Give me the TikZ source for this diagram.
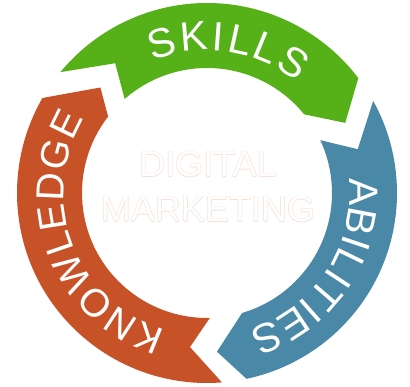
\documentclass[tikz,border=0pt]{standalone}
\usepackage{fontspec}
\setmainfont{Liberation Sans}
\definecolor{cgreen}{RGB}{86,176,24}
\definecolor{cblue}{RGB}{74,136,168}
\definecolor{corange}{RGB}{200,82,40}
\definecolor{cline}{RGB}{246,226,216}
\begin{document}
\begin{tikzpicture}[x=1pt,y=1pt,
  letter/.style={text=white,inner sep=0pt,anchor=base,font=\fontsize{#1}{#1}\selectfont},
  seg/.style={fill=#1,draw=none},
  ctext/.style={inner sep=0pt,anchor=base,font=\fontsize{36}{36}\selectfont}]
\useasboundingbox (0,0) rectangle (410,387);
\fill[white] (0,0) rectangle (410,387);
\begin{scope}[shift={(207,194)}]
  % orange segment (KNOWLEDGE)
  \path[seg=corange] (274.5:190pt) arc[start angle=274.5, end angle=150, radius=190pt]
     -- (135.3:150pt) -- (142.3:125pt) arc[start angle=142.3, end angle=271.3, radius=125pt]
     -- (263.7:155pt) -- cycle;
  % green segment (SKILLS)
  \path[seg=cgreen] (140.5:190pt) arc[start angle=140.5, end angle=37.2, radius=190pt]
     -- (26.9:155pt) -- (39:125pt) arc[start angle=39, end angle=131.2, radius=125pt]
     -- (125.3:159pt) -- cycle;
  % blue segment (ABILITIES)
  \path[seg=cblue] (29:190pt) arc[start angle=29, end angle=-78, radius=190pt]
     -- (-86.4:159pt) -- (-73.7:125pt) arc[start angle=-73.7, end angle=25, radius=125pt]
     -- (16.2:157pt) -- cycle;
  % letters
  \foreach \ch/\ang [count=\i] in {S/106.7,K/94.8,I/85.9,L/77.8,L/67.6,S/56.5}
    \node[letter=41, rotate=\ang-90] (sk\i) at (\ang:142.8pt) {\ch};
  \foreach \ch/\ang [count=\i] in {A/0.4,B/-10.6,I/-18.7,L/-25.95,I/-33.2,T/-40.86,I/-48.5,E/-56.6,S/-67.6}
    \node[letter=41, rotate=\ang-90] (ab\i) at (\ang:142.8pt) {\ch};
  \foreach \ch/\ang [count=\i] in {K/247.9,N/236.7,O/224.7,W/211.0,L/198.95,E/188.95,D/177.7,G/165.7,E/154.05}
    \node[letter=39, rotate=\ang-90] (kn\i) at (\ang:143.5pt) {\ch};
\end{scope}
% centre text: white with faint outline
\foreach \dx/\dy [count=\i] in {0.6/0,-0.6/0,0/0.6,0/-0.6}{
  \node[ctext,text=cline] (dgo\i) at (208+\dx,210+\dy) {DIGITAL};
  \node[ctext,text=cline] (mko\i) at (208+\dx,165+\dy) {MARKETING};
}
\node[ctext,text=white] (digital) at (208,210) {DIGITAL};
\node[ctext,text=white] (marketing) at (208,165) {MARKETING};
\end{tikzpicture}
\end{document}
